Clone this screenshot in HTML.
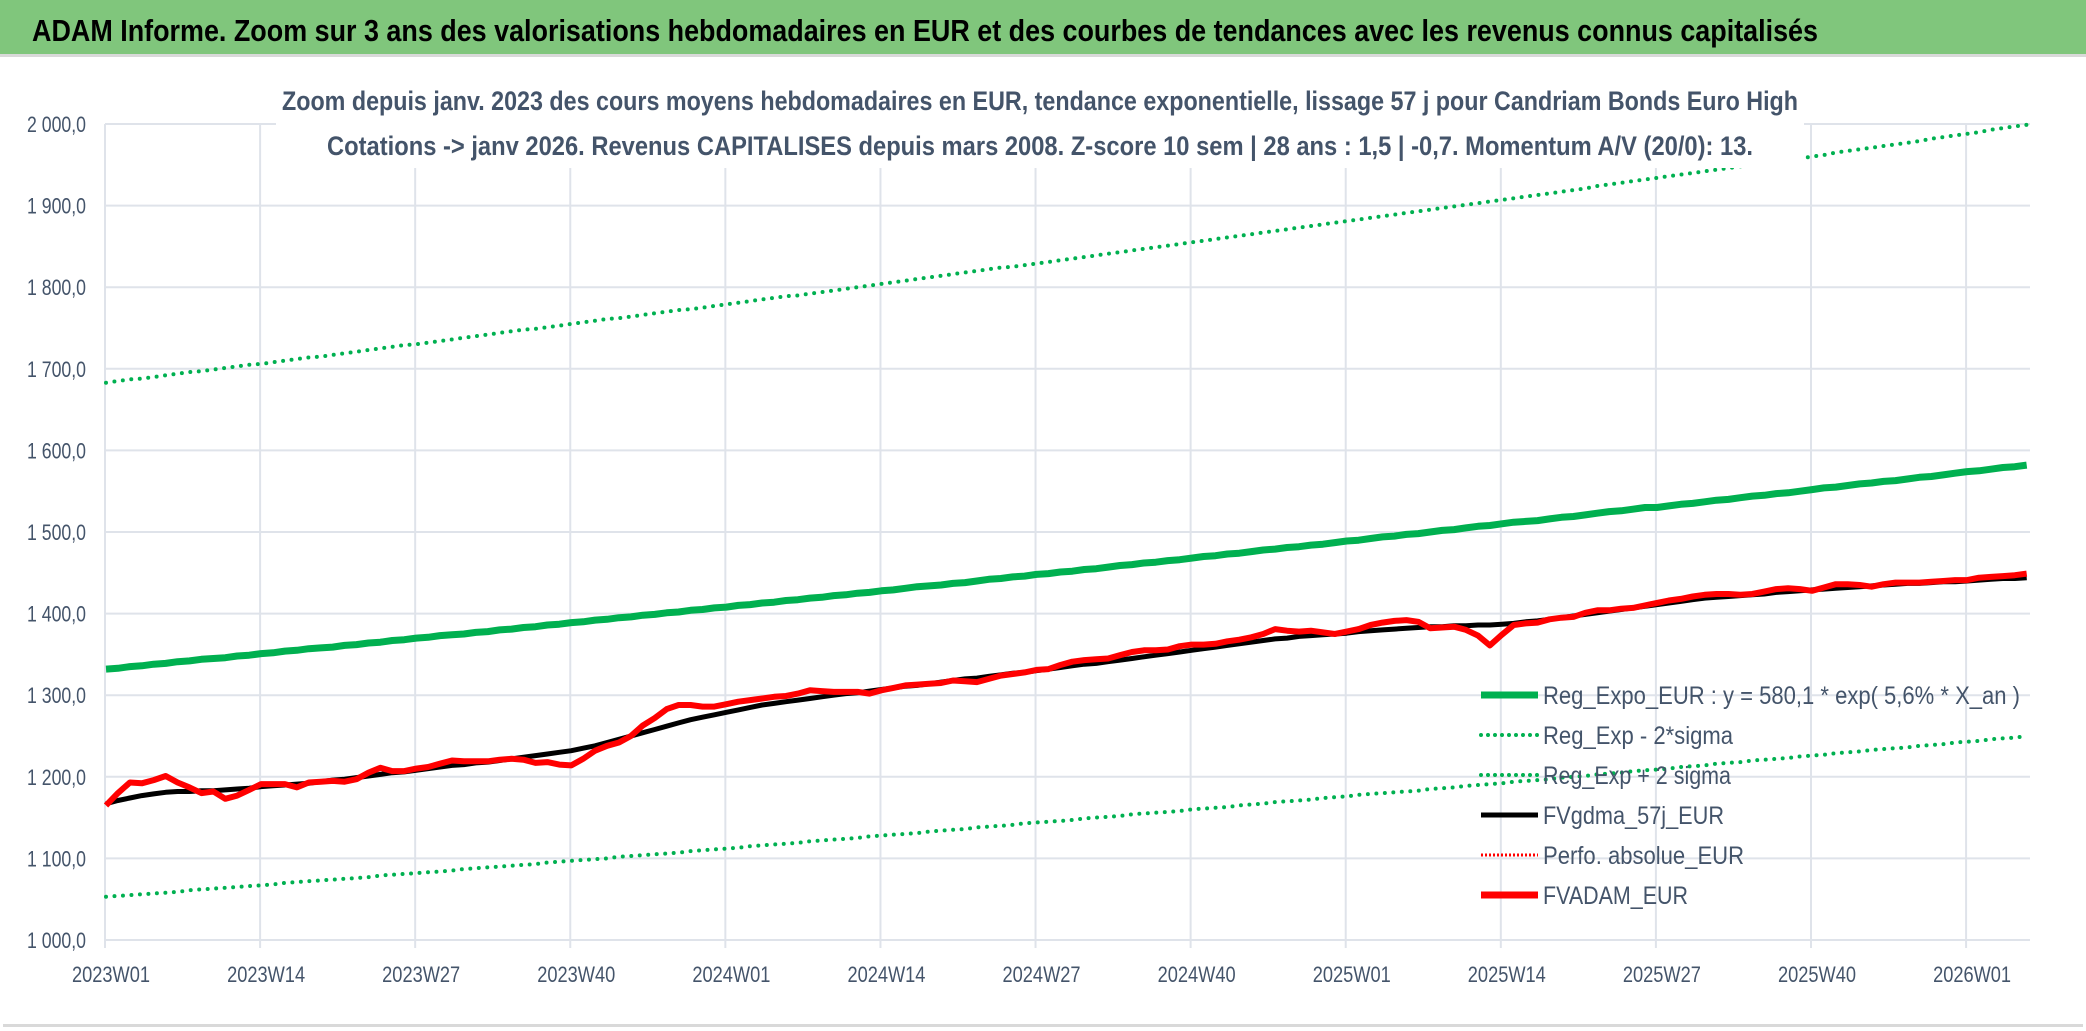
<!DOCTYPE html>
<html><head><meta charset="utf-8">
<style>
html,body{margin:0;padding:0;background:#fff;}
svg{display:block;}
text{font-family:"Liberation Sans Narrow","Liberation Sans",sans-serif;}
</style></head>
<body>
<svg id="chart" width="2086" height="1031" viewBox="0 0 2086 1031" xmlns="http://www.w3.org/2000/svg">
  <rect x="0" y="0" width="2086" height="1031" fill="#ffffff"/>
  <rect x="0" y="0" width="2086" height="54" fill="#80c67c"/>
  <rect x="0" y="54" width="2086" height="3" fill="#d9d9d9"/>
  <text x="32" y="41" font-size="31" font-weight="bold" fill="#000" textLength="1786" lengthAdjust="spacingAndGlyphs">ADAM Informe. Zoom sur 3 ans des valorisations hebdomadaires en EUR et des courbes de tendances avec les revenus connus capitalisés</text>
  <rect x="3" y="1024" width="2080" height="3" fill="#d9d9d9"/>
  <g id="grid"></g>
  <g id="yaxis"></g>
  <g id="xaxis"></g>
  <g id="series"></g>
  <rect x="276" y="62" width="1528" height="106" fill="#ffffff"/>
  <text x="282" y="110" font-size="27" font-weight="bold" fill="#44546a" textLength="1516" lengthAdjust="spacingAndGlyphs">Zoom depuis janv. 2023 des cours moyens hebdomadaires en EUR, tendance exponentielle, lissage 57 j pour Candriam Bonds Euro High</text>
  <text x="327" y="155" font-size="27" font-weight="bold" fill="#44546a" textLength="1426" lengthAdjust="spacingAndGlyphs">Cotations -&gt; janv 2026. Revenus CAPITALISES depuis mars 2008. Z-score 10 sem | 28 ans : 1,5 | -0,7. Momentum A/V (20/0): 13.</text>
  <g id="legend"></g>
</svg>
<script>
const yTicks = [1000,1100,1200,1300,1400,1500,1600,1700,1800,1900,2000];
const yTickLabels = ["1 000,0","1 100,0","1 200,0","1 300,0","1 400,0","1 500,0","1 600,0","1 700,0","1 800,0","1 900,0","2 000,0"];
const xTickIndex = [0,13,26,39,52,65,78,91,104,117,130,143,156];
const xTickLabels = ["2023W01","2023W14","2023W27","2023W40","2024W01","2024W14","2024W27","2024W40","2025W01","2025W14","2025W27","2025W40","2026W01"];
const trendValues = [1332,1333,1335,1336,1338,1339,1341,1342,1344,1345,1346,1348,1349,1351,1352,1354,1355,1357,1358,1359,1361,1362,1364,1365,1367,1368,1370,1371,1373,1374,1375,1377,1378,1380,1381,1383,1384,1386,1387,1389,1390,1392,1393,1395,1396,1398,1399,1401,1402,1404,1405,1407,1408,1410,1411,1413,1414,1416,1417,1419,1420,1422,1423,1425,1426,1428,1429,1431,1433,1434,1435,1437,1438,1440,1442,1443,1445,1446,1448,1449,1451,1452,1454,1455,1457,1459,1460,1462,1463,1465,1466,1468,1470,1471,1473,1474,1476,1478,1479,1481,1482,1484,1485,1487,1489,1490,1492,1494,1495,1497,1498,1500,1502,1503,1505,1507,1508,1510,1512,1513,1514,1516,1518,1519,1521,1523,1525,1526,1528,1530,1530,1532,1534,1535,1537,1539,1540,1542,1544,1545,1547,1548,1550,1552,1554,1555,1557,1559,1560,1562,1563,1565,1567,1568,1570,1572,1574,1575,1577,1579,1580,1582];
const upperValues = [1683,1685,1687,1688,1690,1692,1694,1696,1697,1699,1701,1703,1705,1706,1708,1710,1712,1714,1715,1717,1719,1721,1723,1725,1727,1729,1730,1732,1734,1736,1738,1740,1742,1744,1746,1748,1749,1751,1753,1755,1757,1759,1761,1762,1764,1766,1768,1770,1772,1773,1775,1777,1779,1781,1783,1785,1787,1789,1790,1792,1794,1796,1798,1800,1802,1804,1806,1808,1810,1812,1814,1816,1818,1820,1822,1824,1825,1827,1829,1831,1833,1835,1837,1839,1841,1843,1845,1847,1849,1851,1853,1855,1857,1859,1861,1863,1865,1867,1869,1871,1873,1875,1877,1879,1881,1883,1885,1887,1889,1891,1893,1895,1897,1899,1901,1903,1905,1907,1909,1911,1913,1915,1917,1919,1921,1924,1926,1928,1930,1932,1934,1936,1938,1940,1942,1944,1946,1948,1950,1952,1954,1956,1958,1960,1962,1965,1967,1969,1971,1973,1975,1977,1979,1982,1984,1986,1988,1990,1993,1995,1997,1999];
const lowerValues = [1053,1054,1055,1056,1057,1058,1059,1061,1062,1063,1064,1065,1066,1067,1068,1070,1071,1072,1073,1074,1075,1076,1077,1079,1080,1081,1082,1083,1084,1085,1087,1088,1089,1090,1091,1092,1093,1095,1096,1097,1098,1099,1100,1102,1103,1104,1105,1106,1107,1109,1110,1111,1112,1113,1115,1116,1117,1118,1119,1121,1122,1123,1124,1125,1127,1128,1129,1130,1131,1133,1134,1135,1136,1138,1139,1140,1141,1143,1144,1145,1146,1147,1149,1150,1151,1152,1154,1155,1156,1157,1158,1160,1161,1162,1163,1165,1166,1167,1169,1170,1171,1172,1174,1175,1176,1178,1179,1180,1181,1182,1183,1185,1186,1187,1189,1190,1191,1192,1194,1195,1196,1197,1199,1200,1201,1203,1204,1205,1207,1208,1209,1210,1212,1213,1214,1216,1217,1218,1220,1221,1222,1223,1225,1226,1227,1229,1230,1231,1233,1234,1235,1236,1238,1239,1240,1242,1243,1244,1246,1247,1248,1250];
const gdmaValues = [1167,1171,1174,1177,1179,1181,1182,1182,1183,1183,1184,1185,1186,1188,1189,1190,1191,1192,1194,1196,1197,1199,1201,1203,1205,1206,1208,1210,1212,1214,1215,1217,1218,1220,1222,1224,1226,1228,1230,1232,1235,1238,1242,1246,1250,1254,1258,1262,1266,1270,1273,1276,1279,1282,1285,1288,1290,1292,1294,1296,1298,1300,1302,1303,1305,1307,1309,1311,1312,1314,1316,1318,1320,1321,1323,1325,1327,1328,1330,1332,1334,1336,1338,1339,1341,1343,1345,1347,1349,1351,1353,1355,1357,1359,1361,1363,1365,1367,1369,1370,1372,1373,1374,1375,1376,1378,1379,1380,1381,1382,1383,1384,1384,1385,1385,1386,1386,1387,1388,1390,1391,1393,1395,1397,1399,1401,1403,1405,1407,1409,1411,1413,1415,1417,1419,1420,1421,1422,1423,1424,1426,1427,1428,1429,1430,1431,1432,1433,1434,1435,1436,1437,1437,1438,1439,1439,1440,1441,1442,1443,1443,1444];
const adamValues = [1165,1180,1193,1192,1196,1201,1193,1187,1180,1182,1173,1177,1184,1191,1191,1191,1187,1193,1194,1195,1194,1197,1205,1211,1207,1207,1210,1212,1216,1220,1219,1219,1219,1221,1222,1221,1217,1218,1215,1214,1222,1232,1238,1242,1250,1263,1272,1283,1288,1288,1286,1286,1289,1292,1294,1296,1298,1299,1302,1306,1305,1304,1304,1304,1302,1306,1309,1312,1313,1314,1315,1318,1317,1316,1320,1324,1326,1328,1331,1332,1337,1341,1343,1344,1345,1349,1353,1355,1355,1356,1360,1362,1362,1363,1366,1368,1371,1375,1381,1379,1378,1379,1377,1375,1378,1381,1386,1389,1391,1392,1390,1382,1383,1384,1380,1373,1361,1374,1386,1388,1389,1393,1395,1396,1401,1404,1404,1406,1407,1410,1413,1416,1418,1421,1423,1424,1424,1423,1424,1427,1430,1431,1430,1428,1432,1436,1436,1435,1433,1436,1438,1438,1438,1439,1440,1441,1441,1444,1445,1446,1447,1449];

const NS = "http://www.w3.org/2000/svg";
const plotLeft = 105, plotRight = 2030, yTop = 124, yBottom = 940;
const yMin = 1000, yMax = 2000;
const x0 = 106, xStep = 11.93;
function xScale(i){ return x0 + i * xStep; }
function yScale(v){ return yBottom - (v - yMin) / (yMax - yMin) * (yBottom - yTop); }
function mk(tag, attrs, parent){
  const e = document.createElementNS(NS, tag);
  for (const k in attrs) e.setAttribute(k, attrs[k]);
  parent.appendChild(e);
  return e;
}
const grid = document.getElementById('grid');
const yaxis = document.getElementById('yaxis');
const xaxis = document.getElementById('xaxis');
const series = document.getElementById('series');
const legend = document.getElementById('legend');

yTicks.forEach((v, k) => {
  const y = yScale(v);
  const l = mk('line', {x1: plotLeft, x2: plotRight, y1: y, y2: y, stroke: '#dfe3ea', 'stroke-width': 2}, grid);
  
  
  const t = mk('text', {x: 27, y: y + 8, 'font-size': 22, fill: '#44546a', textLength: 59, lengthAdjust: 'spacingAndGlyphs'}, yaxis);
  t.textContent = yTickLabels[k];
  
  
});
xTickIndex.forEach((idx, k) => {
  const x = x0 - 1 + idx * xStep;
  const l = mk('line', {x1: x, x2: x, y1: yTop, y2: yBottom + 8, stroke: '#dfe3ea', 'stroke-width': 2}, grid);
  
  
  const t = mk('text', {x: x - 33, y: 982, 'font-size': 22, fill: '#44546a', textLength: 78, lengthAdjust: 'spacingAndGlyphs'}, xaxis);
  t.textContent = xTickLabels[k];
  
  
});

function pathFor(vals){
  return vals.map((v, i) => (i ? 'L' : 'M') + xScale(i).toFixed(1) + ' ' + yScale(v).toFixed(1)).join(' ');
}
const pUpper = mk('path', {d: pathFor(upperValues), fill: 'none', stroke: '#00b050', 'stroke-width': 4, 'stroke-dasharray': '0 8.5', 'stroke-linecap': 'round'}, series);


const pLower = mk('path', {d: pathFor(lowerValues), fill: 'none', stroke: '#00b050', 'stroke-width': 4, 'stroke-dasharray': '0 8.5', 'stroke-linecap': 'round'}, series);


const pTrend = mk('path', {d: pathFor(trendValues), fill: 'none', stroke: '#00b050', 'stroke-width': 7, 'stroke-linejoin': 'round'}, series);


const pGdma = mk('path', {d: pathFor(gdmaValues), fill: 'none', stroke: '#000000', 'stroke-width': 5, 'stroke-linejoin': 'round'}, series);


const pAdam = mk('path', {d: pathFor(adamValues), fill: 'none', stroke: '#ff0000', 'stroke-width': 6, 'stroke-linejoin': 'round'}, series);



const legendLabels = ["Reg_Expo_EUR : y = 580,1 * exp( 5,6% *  X_an )","Reg_Exp - 2*sigma","Reg_Exp + 2 sigma","FVgdma_57j_EUR","Perfo. absolue_EUR","FVADAM_EUR"];
const legendColors = ['#00b050','#00b050','#00b050','#000000','#ff0000','#ff0000'];
const legendWidths = [7,4,4,5,3,7];
const legendDash = ['', '0 7', '0 7', '', '2 2', ''];
const legendTextW = [477,190,188,181,201,145];
const legendNames = ['legend-entry-reg-expo','legend-entry-minus-2sigma','legend-entry-plus-2sigma','legend-entry-fvgdma','legend-entry-perfo-absolue','legend-entry-fvadam'];
legendLabels.forEach((lab, k) => {
  const y = 695 + k * 40;
  const g = mk('g', {}, legend);
  
  
  const a = {x1: 1481, x2: 1538, y1: y, y2: y, stroke: legendColors[k], 'stroke-width': legendWidths[k]};
  if (legendDash[k]) { a['stroke-dasharray'] = legendDash[k]; if (legendDash[k].startsWith('0')) a['stroke-linecap'] = 'round'; }
  const sw = mk('line', a, g);
  
  
  const t = mk('text', {x: 1543, y: y + 9, 'font-size': 25, fill: '#44546a', textLength: legendTextW[k], lengthAdjust: 'spacingAndGlyphs'}, g);
  t.textContent = lab;
  
  
});
</script>
</body></html>
